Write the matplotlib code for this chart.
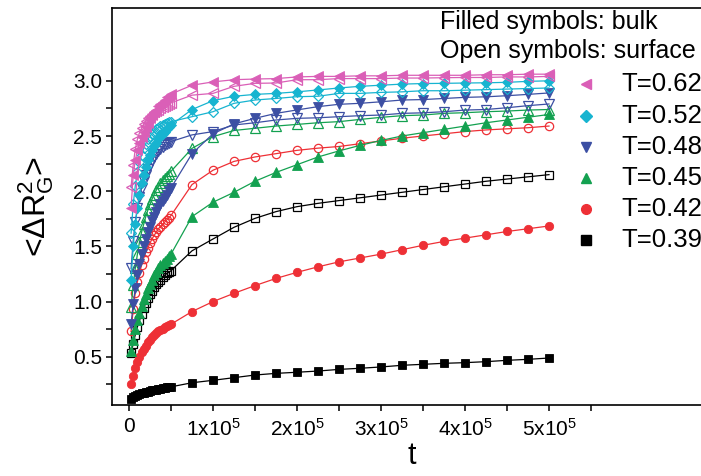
import matplotlib
matplotlib.use('Agg')
import matplotlib.pyplot as plt
from matplotlib.lines import Line2D

plt.rcParams['font.family'] = ['Liberation Sans', 'DejaVu Sans']
plt.rcParams['mathtext.fontset'] = 'custom'
plt.rcParams['mathtext.rm'] = 'Liberation Sans'
plt.rcParams['mathtext.it'] = 'Liberation Sans'
plt.rcParams['mathtext.default'] = 'regular'

# ---------------- data ----------------
t_dense = [2500, 5000, 7500, 10000, 12500, 15000, 17500, 20000, 22500, 25000,
           27500, 30000, 32500, 35000, 37500, 40000, 42500, 45000, 47500, 50000]
t_sparse = [75000, 100000, 125000, 150000, 175000, 200000, 225000, 250000, 275000,
            300000, 325000, 350000, 375000, 400000, 425000, 450000, 475000, 500000]

T039_bulk = [0.12, 0.135, 0.145, 0.155, 0.162, 0.168, 0.174, 0.18, 0.185, 0.19,
             0.195, 0.199, 0.203, 0.207, 0.211, 0.215, 0.218, 0.222, 0.225, 0.228,
             0.265, 0.287, 0.311, 0.335, 0.35, 0.36, 0.371, 0.386, 0.396,
             0.408, 0.423, 0.432, 0.441, 0.447, 0.456, 0.468, 0.477, 0.489]
T039_surf = [0.53, 0.62, 0.70, 0.77, 0.83, 0.89, 0.94, 0.99, 1.03, 1.07,
             1.10, 1.13, 1.16, 1.18, 1.20, 1.22, 1.24, 1.255, 1.265, 1.28,
             1.46, 1.567, 1.673, 1.754, 1.815, 1.86, 1.89, 1.915, 1.94,
             1.965, 1.99, 2.015, 2.04, 2.065, 2.09, 2.11, 2.13, 2.15]
T042_bulk = [0.25, 0.33, 0.40, 0.45, 0.50, 0.54, 0.575, 0.60, 0.63, 0.655,
             0.675, 0.695, 0.715, 0.73, 0.745, 0.755, 0.768, 0.778, 0.787, 0.795,
             0.91, 1.0, 1.075, 1.145, 1.21, 1.265, 1.315, 1.36, 1.395,
             1.43, 1.47, 1.51, 1.545, 1.575, 1.605, 1.635, 1.66, 1.685]
T042_surf = [0.73, 0.93, 1.08, 1.18, 1.26, 1.33, 1.39, 1.45, 1.49, 1.53,
             1.57, 1.60, 1.63, 1.66, 1.68, 1.70, 1.72, 1.74, 1.76, 1.78,
             2.06, 2.19, 2.27, 2.31, 2.34, 2.37, 2.39, 2.405, 2.43,
             2.455, 2.48, 2.50, 2.52, 2.54, 2.555, 2.565, 2.575, 2.59]
T045_bulk = [0.55, 0.65, 0.75, 0.83, 0.90, 0.96, 1.02, 1.07, 1.12, 1.16,
             1.20, 1.24, 1.27, 1.30, 1.33, 1.35, 1.37, 1.39, 1.41, 1.43,
             1.77, 1.90, 1.99, 2.09, 2.17, 2.24, 2.31, 2.365, 2.415,
             2.46, 2.50, 2.53, 2.56, 2.59, 2.62, 2.645, 2.67, 2.695]
T045_surf = [0.95, 1.15, 1.30, 1.43, 1.54, 1.63, 1.70, 1.77, 1.83, 1.88,
             1.93, 1.97, 2.01, 2.04, 2.07, 2.10, 2.12, 2.14, 2.16, 2.18,
             2.388, 2.494, 2.55, 2.57, 2.59, 2.605, 2.62, 2.63, 2.65,
             2.669, 2.684, 2.69, 2.705, 2.711, 2.72, 2.726, 2.735, 2.74]
T048_bulk = [0.80, 0.98, 1.12, 1.24, 1.34, 1.43, 1.50, 1.57, 1.63, 1.68,
             1.73, 1.77, 1.81, 1.85, 1.88, 1.91, 1.94, 1.97, 2.00, 2.03,
             2.34, 2.52, 2.61, 2.66, 2.705, 2.736, 2.766, 2.787, 2.796,
             2.81, 2.826, 2.83, 2.84, 2.85, 2.855, 2.865, 2.877, 2.89]
T048_surf = [1.30, 1.55, 1.72, 1.85, 1.95, 2.03, 2.09, 2.15, 2.20, 2.24,
             2.28, 2.31, 2.34, 2.36, 2.38, 2.40, 2.42, 2.43, 2.44, 2.45,
             2.51, 2.54, 2.60, 2.62, 2.645, 2.66, 2.665, 2.675, 2.684,
             2.69, 2.705, 2.71, 2.72, 2.735, 2.74, 2.756, 2.775, 2.79]
T052_bulk = [1.20, 1.50, 1.70, 1.85, 1.97, 2.07, 2.15, 2.22, 2.28, 2.33,
             2.37, 2.41, 2.44, 2.47, 2.50, 2.52, 2.54, 2.56, 2.58, 2.60,
             2.74, 2.82, 2.86, 2.877, 2.886, 2.90, 2.917, 2.935, 2.95,
             2.96, 2.97, 2.975, 2.977, 2.98, 2.982, 2.986, 2.995, 3.0]
T052_surf = [1.62, 1.88, 2.05, 2.17, 2.26, 2.33, 2.39, 2.43, 2.47, 2.50,
             2.52, 2.54, 2.56, 2.575, 2.59, 2.60, 2.61, 2.62, 2.625, 2.63,
             2.675, 2.72, 2.796, 2.826, 2.84, 2.856, 2.86, 2.886, 2.886,
             2.895, 2.90, 2.91, 2.91, 2.915, 2.92, 2.925, 2.93, 2.935]
T062_bulk = [1.85, 2.15, 2.28, 2.37, 2.44, 2.49, 2.54, 2.58, 2.62, 2.66,
             2.69, 2.72, 2.74, 2.77, 2.79, 2.81, 2.83, 2.85, 2.86, 2.88,
             2.96, 2.99, 3.01, 3.016, 3.02, 3.035, 3.04, 3.04, 3.045,
             3.045, 3.05, 3.05, 3.05, 3.05, 3.055, 3.055, 3.06, 3.06]
T062_surf = [2.04, 2.24, 2.38, 2.47, 2.53, 2.57, 2.61, 2.64, 2.66, 2.68,
             2.70, 2.715, 2.73, 2.74, 2.75, 2.76, 2.77, 2.78, 2.79, 2.80,
             2.87, 2.886, 2.95, 2.977, 2.98, 3.01, 3.01, 3.02, 3.02,
             3.02, 3.025, 3.025, 3.028, 3.03, 3.03, 3.035, 3.035, 3.04]

temps = ['T=0.62', 'T=0.52', 'T=0.48', 'T=0.45', 'T=0.42', 'T=0.39']
bulk = [T062_bulk, T052_bulk, T048_bulk, T045_bulk, T042_bulk, T039_bulk]
surf = [T062_surf, T052_surf, T048_surf, T045_surf, T042_surf, T039_surf]
colors = ['#DA5FB7', '#17B4D0', '#3C4FA3', '#13A150', '#EE3036', '#000000']
markers = ['<', 'D', 'v', '^', 'o', 's']
msizes = [6.5, 5.0, 6.5, 6.5, 6.0, 5.5]

x_ticks = [0, 100000, 200000, 300000, 400000, 500000]
x_ticklabels = ['0', r'1x10$^{5}$', r'2x10$^{5}$', r'3x10$^{5}$', r'4x10$^{5}$', r'5x10$^{5}$']
y_ticks = [0.5, 1.0, 1.5, 2.0, 2.5, 3.0]
y_ticklabels = ['0.5', '1.0', '1.5', '2.0', '2.5', '3.0']

# ---------------- figure ----------------
W, H = 701, 476
fig = plt.figure(figsize=(W / 100, H / 100), dpi=100)
left_px, right_px, top_px, bot_px = 112, 712, 8, 405
ax = fig.add_axes([left_px / W, 1 - bot_px / H, (right_px - left_px) / W, (bot_px - top_px) / H])

t_all = t_dense + t_sparse
for i in range(len(temps))[::-1]:
    c = colors[i]
    ax.plot(t_all, surf[i], '-', color=c, lw=0.9, marker=markers[i], ms=msizes[i],
            mfc='none', mec=c, mew=0.9, clip_on=False)
    ax.plot(t_all, bulk[i], '-', color=c, lw=0.9, marker=markers[i], ms=msizes[i],
            mfc=c, mec=c, mew=0.6, clip_on=False)

x0 = -20238
x1 = x0 + (right_px - left_px) / 84 * 1e5
ax.set_xlim(x0, x1)
ax.set_ylim(7 / 110.4, 404 / 110.4)

ax.set_xticks(x_ticks)
ax.set_xticklabels(x_ticklabels)
ax.set_xticks([50000, 150000, 250000, 350000, 450000, 550000], minor=True)
ax.set_yticks(y_ticks)
ax.set_yticklabels(y_ticklabels)
ax.set_yticks([0.25, 0.75, 1.25, 1.75, 2.25, 2.75], minor=True)
ax.tick_params(which='both', direction='out', length=4, width=1.1, labelsize=15, pad=3)
ax.tick_params(axis='x', pad=5)
ax.spines['right'].set_visible(False)
for s in ['left', 'top', 'bottom']:
    ax.spines[s].set_linewidth(1.2)

ax.set_xlabel('t', fontsize=22, labelpad=1)
ax.set_ylabel(r'<ΔR$_{G}^{2}$>', fontsize=23, labelpad=12)

# legend-like annotation
fig.text(440 / W, 1 - 22 / H, 'Filled symbols: bulk', fontsize=18, va='center', ha='left')
fig.text(440 / W, 1 - 51 / H, 'Open symbols: surface', fontsize=18, va='center', ha='left')
leg_y = [84, 116, 147, 178, 209, 240]
for i in range(len(temps)):
    yy = 1 - leg_y[i] / H
    fig.add_artist(Line2D([586 / W], [yy], marker=markers[i], ms=msizes[i] + 1,
                          color=colors[i], mfc=colors[i], mec=colors[i],
                          linestyle='none', transform=fig.transFigure))
    fig.text(621 / W, yy, temps[i], fontsize=18.5, va='center', ha='left')

fig.savefig('out.png', dpi=100)
